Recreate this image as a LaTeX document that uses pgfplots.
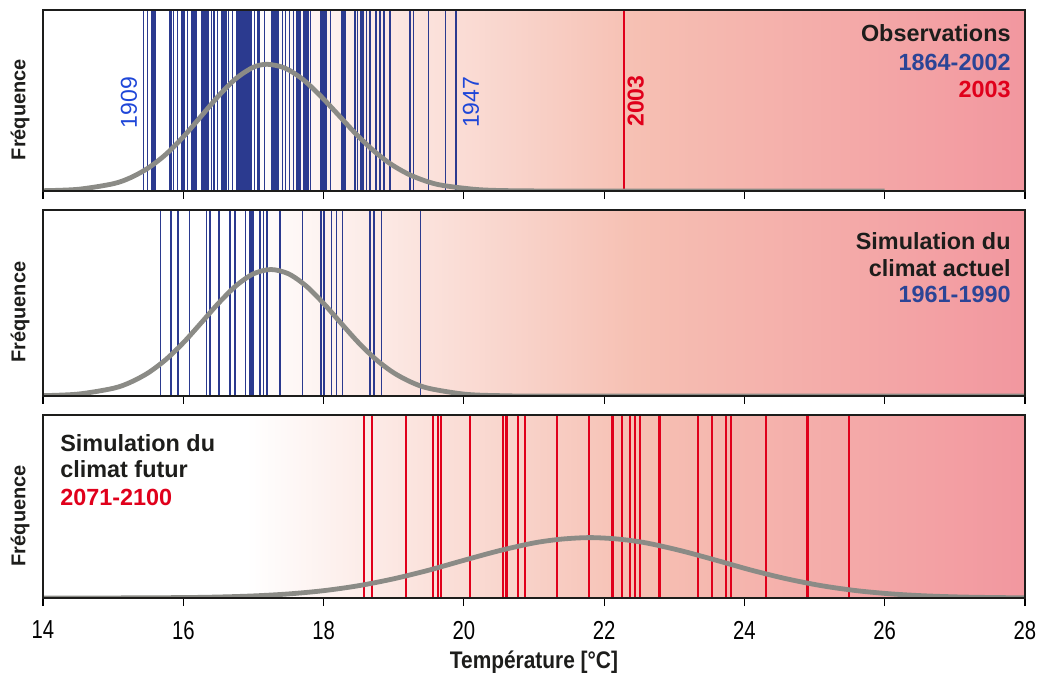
\documentclass[border=0pt]{standalone}
\usepackage{fontspec}
\setmainfont{Liberation Sans}
\newfontfamily\condensed[FakeStretch=0.78]{Liberation Sans}
\newfontfamily\condlabel[FakeStretch=0.87]{Liberation Sans}
\usepackage{pgfplots}
\pgfplotsset{compat=1.18}

\definecolor{lineblue}{HTML}{2B3A8F}
\definecolor{txtblue}{HTML}{2B4496}
\definecolor{yearblue}{HTML}{1E46D8}
\definecolor{linered}{HTML}{E0001B}
\definecolor{curvegray}{HTML}{8B8B86}
\definecolor{pinkmid}{HTML}{F6C0B3}
\definecolor{pinkend}{HTML}{F2979F}
\definecolor{txtblack}{HTML}{1D1D1B}

\pgfplotsset{
  panel/.style={
    width=491pt, scale only axis,
    xmin=14, xmax=28, ymin=0, ymax=1,
    xtick={14,16,...,28}, ytick=\empty,
    xtick pos=bottom, tick align=outside, major tick length=4pt,
    tick style={black, line width=0.6pt},
    axis line style={line width=0.65pt, txtblack},
    axis on top,
    ylabel={\bfseries Fréquence},
    ylabel style={at={(axis description cs:-0.0234,0.45)}, anchor=center,
      font=\fontsize{10}{12}\selectfont, txtblack},
    /pgf/number format/assume math mode=true,
    xticklabel style={font=\condensed\fontsize{13}{14}\selectfont, yshift=-4pt},
  },
  yearlines/.style={ycomb, no markers, line width=0.7pt, lineblue},
  futlines/.style={ycomb, no markers, line width=0.9pt, linered},
  gauss/.style={smooth, no markers, line width=2.4pt, curvegray},
}
\newcommand{\bgfill}{\fill[left color=white, right color=pinkend, middle color=pinkmid]
  (axis cs:16.9,0) rectangle (axis cs:28,1);}
\newcommand{\lbl}{\bfseries\fontsize{11.7}{13}\selectfont}

\begin{document}
\begin{tikzpicture}
% --- Observations ---
\begin{axis}[panel, name=p1, height=90.5pt, xticklabels={}]
\bgfill
\addplot[yearlines] coordinates {
(15.430,1)(15.487,1)(15.554,1)(15.575,1)(15.597,1)(15.804,1)(15.825,1)(15.858,1)
(15.915,1)(15.982,1)(16.010,1)(16.057,1)(16.124,1)(16.141,1)(16.159,1)(16.176,1)
(16.191,1)(16.267,1)(16.284,1)(16.301,1)(16.318,1)(16.334,1)(16.352,1)(16.400,1)
(16.438,1)(16.485,1)(16.552,1)(16.569,1)(16.586,1)(16.603,1)(16.619,1)(16.648,1)
(16.699,1)(16.766,1)(16.783,1)(16.800,1)(16.817,1)(16.834,1)(16.851,1)(16.869,1)
(16.886,1)(16.903,1)(16.920,1)(16.937,1)(16.954,1)(16.971,1)(17.013,1)(17.058,1)
(17.080,1)(17.155,1)(17.265,1)(17.282,1)(17.299,1)(17.316,1)(17.333,1)(17.350,1)
(17.412,1)(17.460,1)(17.512,1)(17.569,1)(17.621,1)(17.643,1)(17.664,1)(17.714,1)
(17.735,1)(17.757,1)(17.778,1)(17.814,1)(17.956,1)(17.973,1)(17.991,1)(18.008,1)
(18.025,1)(18.042,1)(18.102,1)(18.263,1)(18.281,1)(18.300,1)(18.316,1)(18.448,1)
(18.481,1)(18.527,1)(18.548,1)(18.567,1)(18.615,1)(18.662,1)(18.748,1)(18.805,1)
(18.862,1)(18.947,1)(19.232,1)(19.279,1)(19.493,1)(19.741,1)(19.888,1)
};
\addplot[ycomb, no markers, line width=1.4pt, linered] coordinates {(22.283,1)};
\addplot[gauss] coordinates {
(14,0.0017)(14.5,0.0094)(15,0.040)(15.25,0.074)(15.5,0.127)(15.75,0.202)
(16,0.299)(16.25,0.411)(16.5,0.524)(16.75,0.621)(17,0.684)(17.2,0.700)
(17.45,0.679)(17.7,0.618)(17.95,0.528)(18.2,0.425)(18.45,0.320)(18.7,0.227)
(18.95,0.151)(19.2,0.0947)(19.45,0.0557)(19.7,0.0307)(20.2,0.0078)(20.7,0.0015)
(21.5,0.0001)(23,0)(26,0)
};
\node[rotate=90, yearblue, font=\fontsize{11.5}{13}\selectfont] at (axis cs:15.226,0.489) {1909};
\node[rotate=90, yearblue, font=\fontsize{11.5}{13}\selectfont] at (axis cs:20.10,0.49) {1947};
\node[rotate=90, linered, font=\bfseries\fontsize{11.5}{13}\selectfont] at (axis cs:22.45,0.497) {2003};
\node[anchor=base east, inner sep=0pt, txtblack, font=\lbl] at (axis cs:27.8,0.825) {Observations};
\node[anchor=base east, inner sep=0pt, txtblue, font=\lbl] at (axis cs:27.8,0.668) {1864-2002};
\node[anchor=base east, inner sep=0pt, linered, font=\lbl] at (axis cs:27.8,0.518) {2003};
\end{axis}

% --- Simulation du climat actuel ---
\begin{axis}[panel, name=p2, height=93pt, xticklabels={},
  at={(p1.south west)}, anchor=north west, yshift=-9.5pt]
\bgfill
\addplot[yearlines, line width=0.75pt] coordinates {
(15.678,1)(15.825,1)(15.925,1)(16.086,1)(16.334,1)(16.381,1)(16.509,1)(16.666,1)
(16.737,1)(16.890,1)(16.951,1)(16.976,1)(16.990,1)(16.998,1)(17.094,1)(17.141,1)
(17.190,1)(17.379,1)(17.703,1)(17.964,1)(17.996,1)(18.005,1)(18.110,1)(18.187,1)
(18.273,1)(18.662,1)(18.719,1)(18.727,1)(18.829,1)(19.385,1)
};
\addplot[gauss] coordinates {
(14,0.00195)(14.5,0.0103)(15,0.0412)(15.25,0.0742)(15.5,0.1246)(15.75,0.1954)
(16,0.286)(16.25,0.391)(16.5,0.498)(16.75,0.592)(17,0.657)(17.25,0.680)
(17.5,0.657)(17.75,0.592)(18,0.498)(18.25,0.391)(18.5,0.286)(18.75,0.1954)
(19,0.1246)(19.25,0.0742)(19.5,0.0412)(20,0.0103)(20.5,0.00195)(21.5,0)(28,0)
};
\node[anchor=base east, inner sep=0pt, txtblack, font=\lbl] at (axis cs:27.8,0.790) {Simulation du};
\node[anchor=base east, inner sep=0pt, txtblack, font=\lbl] at (axis cs:27.8,0.645) {climat actuel};
\node[anchor=base east, inner sep=0pt, txtblue, font=\lbl] at (axis cs:27.8,0.500) {1961-1990};
\end{axis}

% --- Simulation du climat futur ---
\begin{axis}[panel, name=p3, height=91.5pt,
  at={(p2.south west)}, anchor=north west, yshift=-9.5pt,
  xlabel={\bfseries Température [°C]},
  xlabel style={at={(axis description cs:0.5,0)}, anchor=center, yshift=-32pt,
    font=\condlabel\fontsize{12}{13}\selectfont, txtblack}]
\bgfill
\addplot[futlines] coordinates {
(18.577,1)(18.695,1)(19.171,1)(19.556,1)(19.627,1)(19.670,1)(20.088,1)(20.563,1)
(20.597,1)(20.611,1)(20.768,1)(20.872,1)(21.333,1)(21.789,1)(22.117,1)(22.134,1)
(22.251,1)(22.369,1)(22.441,1)(22.512,1)(22.787,1)(22.804,1)(23.343,1)(23.542,1)
(23.738,1)(23.810,1)(24.309,1)(24.888,1)(24.903,1)(25.491,1)
};
\addplot[gauss] coordinates {
(14,0.0001)(15,0.0004)(16,0.0024)(16.5,0.0054)(17,0.0114)(17.5,0.0222)
(18,0.040)(18.5,0.0672)(19,0.105)(19.5,0.152)(20,0.206)(20.5,0.258)
(21,0.301)(21.4,0.322)(21.8,0.330)(22.2,0.322)(22.6,0.301)(23.1,0.258)
(23.6,0.206)(24.1,0.152)(24.6,0.105)(25.1,0.0672)(25.6,0.040)(26.1,0.0222)
(26.6,0.0114)(27.1,0.0054)(27.6,0.0024)(28,0.0011)
};
\node[anchor=base west, inner sep=0pt, txtblack, font=\lbl] at (axis cs:14.242,0.798) {Simulation du};
\node[anchor=base west, inner sep=0pt, txtblack, font=\lbl] at (axis cs:14.242,0.656) {climat futur};
\node[anchor=base west, inner sep=0pt, linered, font=\lbl] at (axis cs:14.242,0.508) {2071-2100};
\end{axis}

\pgfresetboundingbox
\path ([xshift=-21.5pt,yshift=5pt]p1.north west) rectangle ([xshift=499pt,yshift=-332.5pt]p1.north west);
\end{tikzpicture}
\end{document}
